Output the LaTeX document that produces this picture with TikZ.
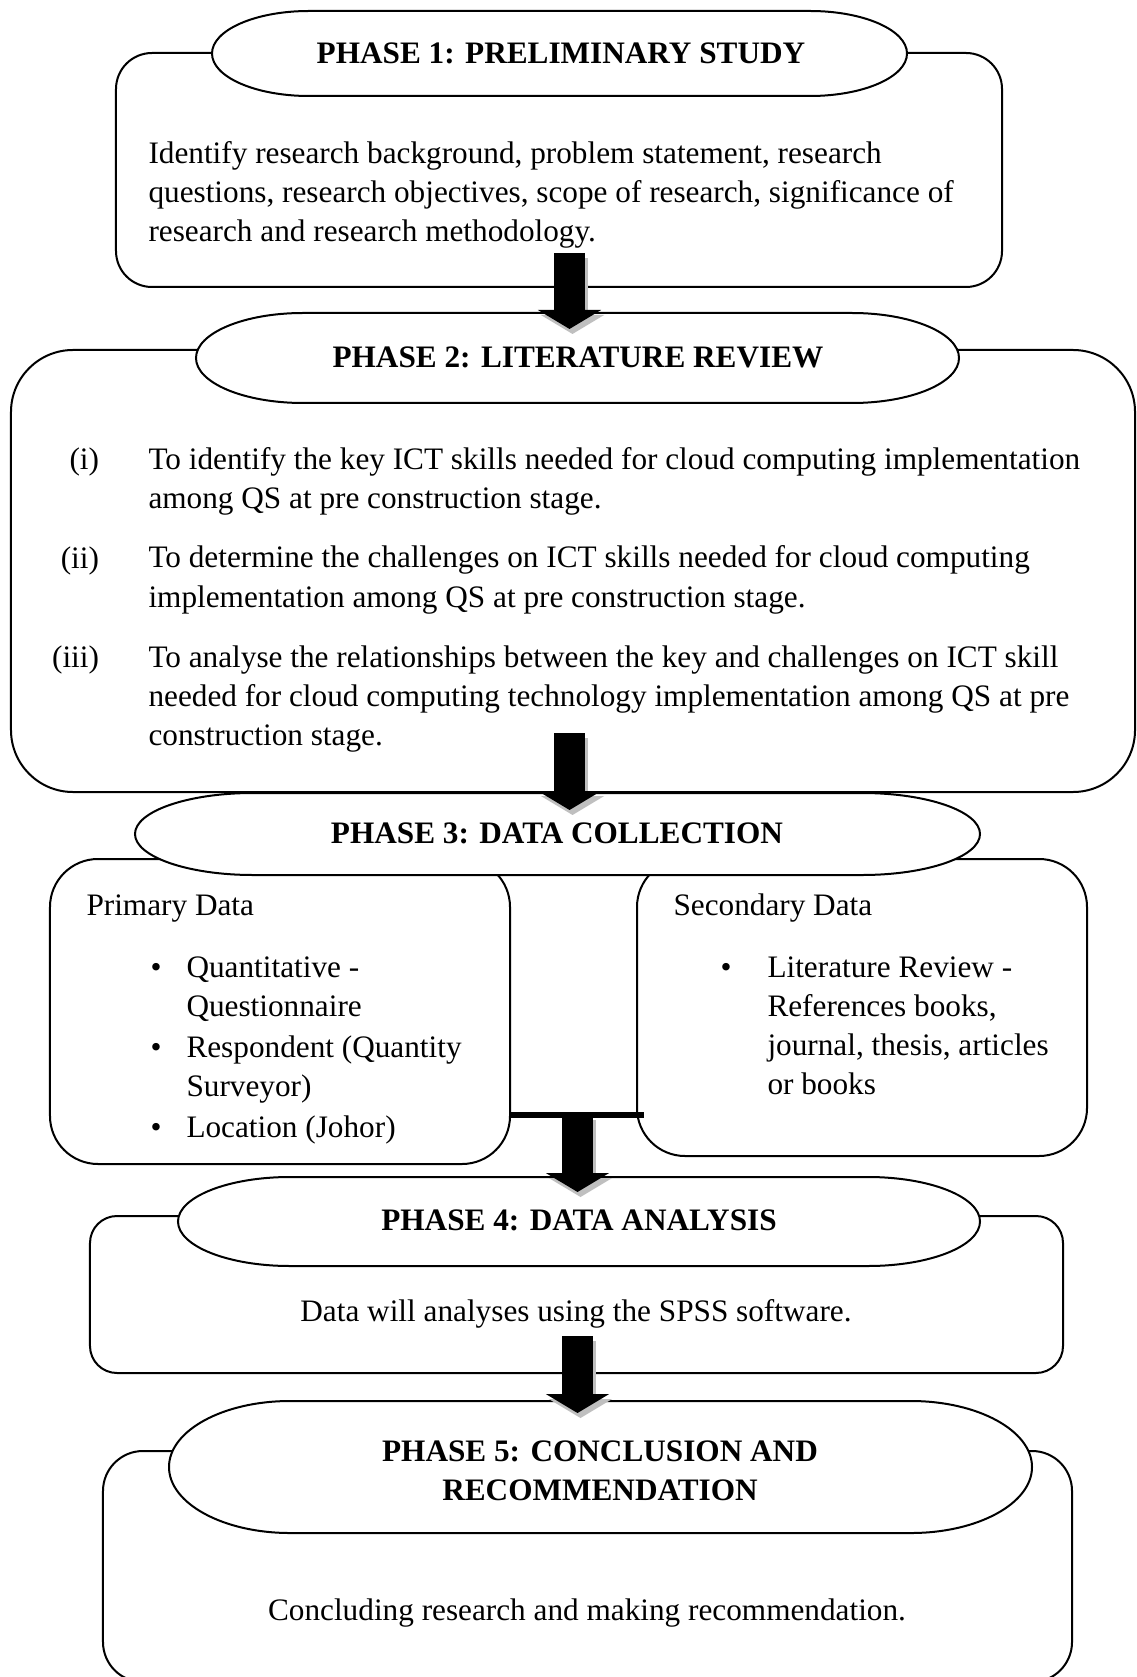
\documentclass[tikz,border=0pt]{standalone}
\usepackage{fontspec}
\setmainfont{Liberation Serif}
\usetikzlibrary{arrows.meta}

\tikzset{
	box/.style={draw, line width=0.8pt},
	term/.style={draw, line width=0.8pt, fill=white},
	phase/.style={font=\fontsize{12.5}{15.5}\selectfont\bfseries, align=center, inner sep=0pt},
	txt/.style={font=\fontsize{12.5}{15.6}\selectfont, align=left, inner sep=0pt},
	flow/.style={line width=12.4pt, -{Triangle[width=25pt,length=7.6pt]}},
	flowshade/.style={flow, black!25, transform canvas={xshift=1.2pt,yshift=-2pt}},
	bar/.style={line width=2.4pt}
}

\begin{document}
\begin{tikzpicture}[x=0.4pt,y=-0.4pt]
	\useasboundingbox (0,0) rectangle (1137,1677);

	%rounded boxes
	\node[box, rounded corners=14.4pt, minimum width=354.4pt, minimum height=93.6pt] (b1) at (559,170) {};
	\node[box, rounded corners=24.8pt, minimum width=449.6pt, minimum height=176.8pt] (b2) at (573,571) {};
	\node[box, rounded corners=19.2pt, minimum width=184pt, minimum height=122pt] (prim) at (280,1011.5) {};
	\node[box, rounded corners=19.2pt, minimum width=180pt, minimum height=118.8pt] (sec) at (862,1007.5) {};
	\node[box, rounded corners=10.8pt, minimum width=389.2pt, minimum height=62.8pt] (b4) at (576.5,1294.5) {};
	\node[box, rounded corners=16pt, minimum width=387.6pt, minimum height=92.4pt] (b5) at (587.5,1566.5) {};

	%phase titles: outline first, then the title on top
	\draw[term] (309,11) -- (810,11) arc[start angle=90,end angle=-90,x radius=38.8pt,y radius=17pt]
		-- (309,96) arc[start angle=270,end angle=90,x radius=38.8pt,y radius=17pt] -- cycle;
	\node[phase] (p1) at (561,53) {PHASE 1: PRELIMINARY STUDY};

	\draw[term] (303,313) -- (852,313) arc[start angle=90,end angle=-90,x radius=42.8pt,y radius=18pt]
		-- (303,403) arc[start angle=270,end angle=90,x radius=42.8pt,y radius=18pt] -- cycle;
	\node[phase] (p2) at (578,357) {PHASE 2: LITERATURE REVIEW};

	\draw[term] (253,793) -- (862,793) arc[start angle=90,end angle=-90,x radius=47.2pt,y radius=16.4pt]
		-- (253,875) arc[start angle=270,end angle=90,x radius=47.2pt,y radius=16.4pt] -- cycle;
	\node[phase] (p3) at (557,833) {PHASE 3: DATA COLLECTION};

	\draw[term] (290,1177) -- (868,1177) arc[start angle=90,end angle=-90,x radius=44.8pt,y radius=17.8pt]
		-- (290,1266) arc[start angle=270,end angle=90,x radius=44.8pt,y radius=17.8pt] -- cycle;
	\node[phase] (p4) at (579,1220) {PHASE 4: DATA ANALYSIS};

	\draw[term] (290,1401) -- (911,1401) arc[start angle=90,end angle=-90,x radius=48.4pt,y radius=26.4pt]
		-- (290,1533) arc[start angle=270,end angle=90,x radius=48.4pt,y radius=26.4pt] -- cycle;
	\node[phase] (p5) at (600,1471) {PHASE 5: CONCLUSION AND\\RECOMMENDATION};

	%phase 1 text (base = last line)
	\node[txt, anchor=base west] (t1) at (148,242) {Identify research background, problem statement, research\\questions, research objectives, scope of research, significance of\\research and research methodology.};

	%phase 2 objectives
	\node[txt, anchor=base east] (n1) at (99.5,470) {(i)};
	\node[txt, anchor=base east] (n2) at (99.5,568) {(ii)};
	\node[txt, anchor=base east] (n3) at (99.5,667) {(iii)};
	\node[txt, anchor=base west] (o1) at (148,509) {To identify the key ICT skills needed for cloud computing implementation\\among QS at pre construction stage.};
	\node[txt, anchor=base west] (o2) at (148,607) {To determine the challenges on ICT skills needed for cloud computing\\implementation among QS at pre construction stage.};
	\node[txt, anchor=base west] (o3) at (148,745) {To analyse the relationships between the key and challenges on ICT skill\\needed for cloud computing technology implementation among QS at pre\\construction stage.};

	%phase 3 sources
	\node[txt, anchor=base west] (pd) at (86,915) {Primary Data};
	\node[txt, anchor=base] (pb1) at (156,977) {•};
	\node[txt, anchor=base] (pb2) at (156,1057) {•};
	\node[txt, anchor=base] (pb3) at (156,1137) {•};
	\node[txt, anchor=base west] (pi1) at (186,1016) {Quantitative -\\Questionnaire};
	\node[txt, anchor=base west] (pi2) at (186,1096) {Respondent (Quantity\\Surveyor)};
	\node[txt, anchor=base west] (pi3) at (186,1137) {Location (Johor)};

	\node[txt, anchor=base west] (sd) at (673,915) {Secondary Data};
	\node[txt, anchor=base] (sb1) at (726,977) {•};
	\node[txt, anchor=base west] (si1) at (767,1094) {Literature Review -\\References books,\\journal, thesis, articles\\or books};

	%phase 4 and 5 text
	\node[txt] (t4) at (576,1314) {Data will analyses using the SPSS software.};
	\node[txt] (t5) at (587,1613) {Concluding research and making recommendation.};

	%arrow ends
	\coordinate (a1s) at (569.5,253);	\coordinate (a1e) at (569.5,329);
	\coordinate (a2s) at (569.5,733);	\coordinate (a2e) at (569.5,810);
	\coordinate (join) at (577.5,1115);	\coordinate (a3e) at (577.5,1192);
	\coordinate (a4s) at (577.5,1336);	\coordinate (a4e) at (577.5,1413);

	%bar joining the two data boxes
	\draw[bar] (prim.east |- join) -- ([xshift=3pt]sec.west |- join);

	%block arrows, grey shade underneath
	\draw[flowshade] (a1s) -- (a1e);
	\draw[flowshade] (a2s) -- (a2e);
	\draw[flowshade] (join) -- (a3e);
	\draw[flowshade] (a4s) -- (a4e);
	\draw[flow] (a1s) -- (a1e);
	\draw[flow] (a2s) -- (a2e);
	\draw[flow] (join) -- (a3e);
	\draw[flow] (a4s) -- (a4e);
\end{tikzpicture}
\end{document}
